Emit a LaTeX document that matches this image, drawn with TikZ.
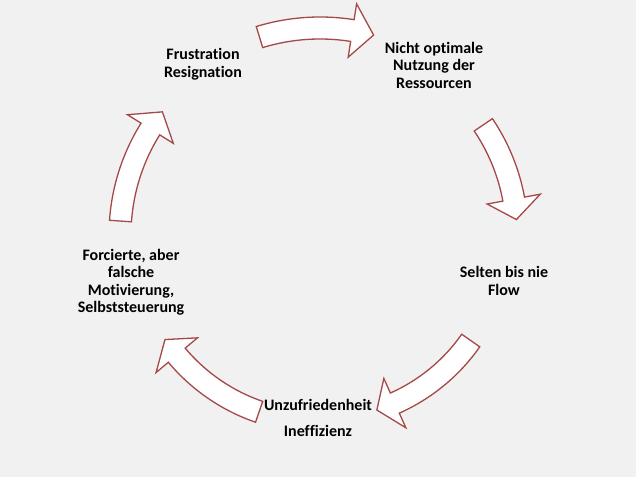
\documentclass[tikz,border=0pt]{standalone}
\usepackage{fontspec}
\setmainfont[Ligatures=NoCommon]{Carlito}
\usepackage{tikz}
\definecolor{bggray}{RGB}{241,241,241}
\definecolor{arrowred}{RGB}{165,72,72}

\begin{document}
\begin{tikzpicture}[x=1pt,y=1pt,
    cyc/.style={draw=arrowred, line width=1.3pt, fill=white, line join=miter},
    txt/.style={font=\fontsize{16}{17.5}\selectfont\bfseries, align=center, inner sep=0pt}]
        \fill[bggray] (0,0) rectangle (636,477);
        \useasboundingbox (0,0) rectangle (636,477);
        \coordinate (m) at (320,242);
        % the five curved arrows: tail angle / tip angle / radius
        \begin{scope}[shift={(m)}]
        \foreach \a/\b/\r in {107/75/207, 34/4.5/197, -35/-72/184, -109/-146/187, 176/142/200}{
            \pgfmathsetmacro\h{\b+6}
            \pgfmathsetlengthmacro\ro{\r+11}
            \pgfmathsetlengthmacro\ri{\r-11}
            \pgfmathsetlengthmacro\rh{\r+27}
            \pgfmathsetlengthmacro\rl{\r-27}
            \pgfmathsetlengthmacro\rm{\r}
            \draw[cyc] (\a:\ro) arc[start angle=\a, end angle=\h, radius=\ro]
                -- (\h:\rh) -- (\b:\rm) -- (\h:\rl) -- (\h:\ri)
                arc[start angle=\h, end angle=\a, radius=\ri] -- cycle;
        }
        \end{scope}
        \node[txt] (frust) at (203,413) {Frustration\\Resignation};
        \node[txt] (nutz) at (434,412) {Nicht optimale\\Nutzung der\\Ressourcen};
        \node[txt] (flow) at (504,196) {Selten bis nie\\Flow};
        \node[txt] (unzuf) at (318,59) {Unzufriedenheit\\[9pt]Ineffizienz};
        \node[txt] (forc) at (131,195) {Forcierte, aber\\falsche\\Motivierung,\\Selbststeuerung};
    \end{tikzpicture}
\end{document}
